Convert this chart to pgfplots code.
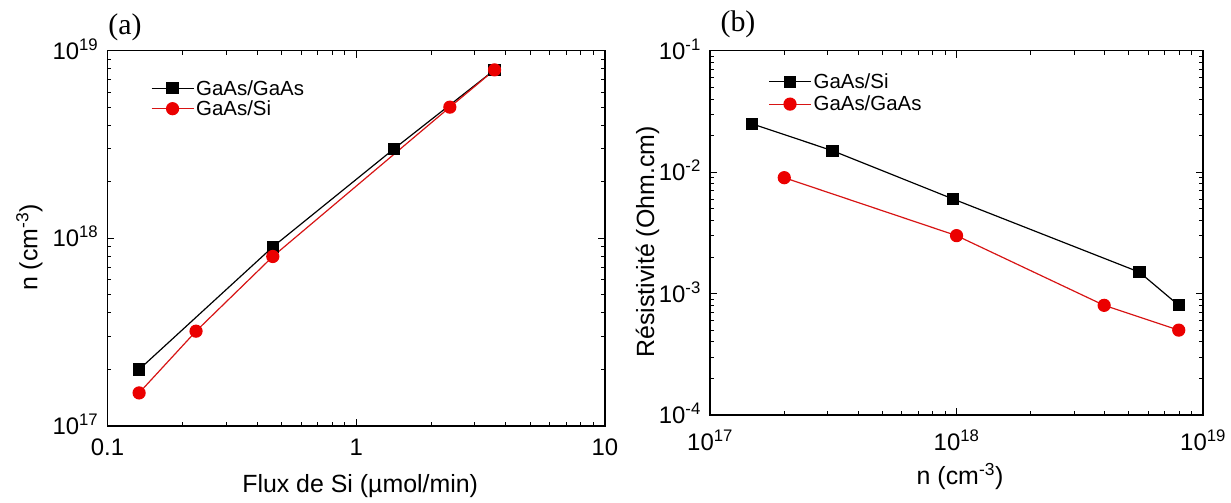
\documentclass[border=0pt]{standalone}
\usepackage{fontspec}
\setmainfont{Liberation Sans}
\newfontfamily\serifpanel{Liberation Serif}
\usepackage{pgfplots}
\pgfplotsset{compat=1.18}
\definecolor{myred}{RGB}{235,0,0}
\definecolor{myredline}{RGB}{215,20,20}

\pgfplotsset{
  mypanel/.style={
    scale only axis,
    axis line style={line width=1.2bp},
    every tick/.style={line width=1bp, black},
    major tick length=7bp, minor tick length=4bp,
    tick align=inside,
    tick pos=both,
    tick label style={font=\fontsize{24}{27}\selectfont},
    label style={font=\fontsize{25}{28}\selectfont},
    legend style={font=\fontsize{20.5}{23}\selectfont, draw=none, fill=none, inner sep=0pt,
      row sep=0bp, nodes={inner sep=2bp}},
    legend cell align=left,
    legend image code/.code={\draw[mark repeat=2,mark phase=2,##1] plot coordinates {(0bp,0bp)(21bp,0bp)(42bp,0bp)};},
    yticklabel style={anchor=base east, yshift=-8.6bp, xshift=-8bp, inner sep=1bp},
  },
  blk/.style={black, line width=1.2bp, mark=square*, mark size=5.5bp, mark options={fill=black}},
  rd/.style={myredline, line width=1.2bp, mark=*, mark size=6bp, mark options={fill=myred, draw=myred}},
}

\begin{document}
\begin{tikzpicture}
\useasboundingbox (0bp,0bp) rectangle (1231bp,503bp);

% Panel (a)
\begin{axis}[xmode=log, ymode=log, mypanel,
  at={(107.5bp,77bp)}, anchor=south west,
  width=497.4bp, height=375.3bp,
  xmin=0.1, xmax=10, ymin=1e17, ymax=1e19,
  xtick={0.1,1,10}, xticklabels={0.1,1,10},
  minor xtick={0.2,0.3,0.4,0.5,0.6,0.7,0.8,0.9,2,3,4,5,6,7,8,9},
  ytick={1e17,1e18,1e19}, yticklabels={10\textsuperscript{17},10\textsuperscript{18},10\textsuperscript{19}},
  minor ytick={2e17,3e17,4e17,5e17,6e17,7e17,8e17,9e17,2e18,3e18,4e18,5e18,6e18,7e18,8e18,9e18},
  xticklabel style={anchor=base, yshift=-29.5bp},
  xlabel={Flux de Si (µmol/min)},
  ylabel={n (cm\textsuperscript{-3})},
  xlabel style={at={(axis description cs:0.508,-0.160)}, anchor=center},
  ylabel style={at={(axis description cs:-0.157,0.475)}, anchor=center},
  legend style={at={(axis description cs:0.087,0.927)}, anchor=north west},
]
\addplot[blk] coordinates {(0.134,2.0e17)(0.462,9.0e17)(1.42,3.0e18)(3.6,7.9e18)};
\addlegendentry{GaAs/GaAs}
\addplot[rd] coordinates {(0.134,1.5e17)(0.227,3.2e17)(0.462,8.0e17)(2.38,5.0e18)(3.6,7.9e18)};
\addlegendentry{GaAs/Si}
\end{axis}

% Panel (b)
\begin{axis}[xmode=log, ymode=log, mypanel,
  at={(710bp,88bp)}, anchor=south west,
  width=493bp, height=364.3bp,
  xmin=1e17, xmax=1e19, ymin=1e-4, ymax=1e-1,
  xtick={1e17,1e18,1e19}, xticklabels={10\textsuperscript{17},10\textsuperscript{18},10\textsuperscript{19}},
  minor xtick={2e17,3e17,4e17,5e17,6e17,7e17,8e17,9e17,2e18,3e18,4e18,5e18,6e18,7e18,8e18,9e18},
  ytick={1e-4,1e-3,1e-2,1e-1}, yticklabels={10\textsuperscript{-4},10\textsuperscript{-3},10\textsuperscript{-2},10\textsuperscript{-1}},
  minor ytick={2e-4,3e-4,4e-4,5e-4,6e-4,7e-4,8e-4,9e-4,2e-3,3e-3,4e-3,5e-3,6e-3,7e-3,8e-3,9e-3,2e-2,3e-2,4e-2,5e-2,6e-2,7e-2,8e-2,9e-2},
  xticklabel style={anchor=base, yshift=-35bp},
  xlabel={n (cm\textsuperscript{-3})},
  ylabel={Résistivité (Ohm.cm)},
  xlabel style={at={(axis description cs:0.507,-0.170)}, anchor=center},
  ylabel style={at={(axis description cs:-0.127,0.475)}, anchor=center},
  legend style={at={(axis description cs:0.118,0.943)}, anchor=north west, row sep=2bp},
]
\addplot[blk] coordinates {(1.48e17,0.025)(3.14e17,0.015)(9.7e17,0.006)(5.52e18,0.0015)(7.97e18,0.0008)};
\addlegendentry{GaAs/Si}
\addplot[rd] coordinates {(2.0e17,0.009)(1e18,0.003)(3.97e18,0.0008)(7.97e18,0.0005)};
\addlegendentry{GaAs/GaAs}
\end{axis}

\node[font=\serifpanel\fontsize{30}{32}\selectfont, inner sep=0pt] at (125bp,476bp) {(a)};
\node[font=\serifpanel\fontsize{30}{32}\selectfont, inner sep=0pt] at (738bp,479bp) {(b)};
\end{tikzpicture}
\end{document}
